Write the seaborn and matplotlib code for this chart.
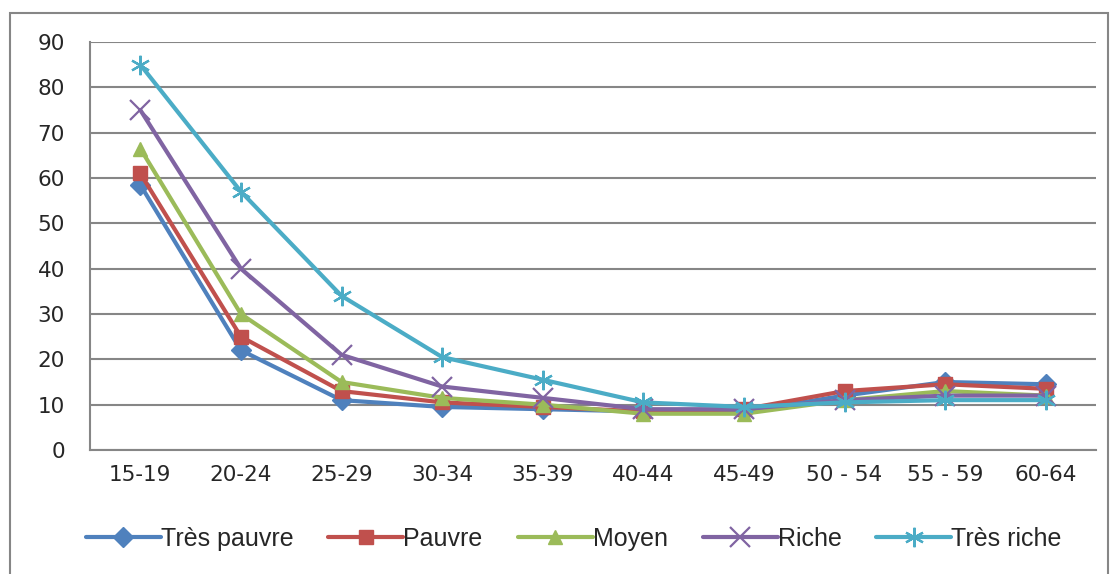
import numpy as np
import pandas as pd
import seaborn as sns
import matplotlib.pyplot as plt
from matplotlib.patches import Rectangle

age_groups = ["15-19", "20-24", "25-29", "30-34", "35-39",
              "40-44", "45-49", "50 - 54", "55 - 59", "60-64"]
tres_pauvre = [58.5, 22, 11, 9.5, 9, 8.5, 8.5, 12, 15, 14.5]
pauvre = [61, 25, 13, 10.5, 9.5, 8.5, 9, 13, 14.5, 13.5]
moyen = [66.5, 30, 15, 11.5, 10, 8, 8, 11, 13, 12]
riche = [75, 40, 21, 14, 11.5, 9, 9, 11, 12, 12]
tres_riche = [85, 57, 34, 20.5, 15.5, 10.5, 9.5, 10.5, 11, 11]

groups = ["Très pauvre", "Pauvre", "Moyen", "Riche", "Très riche"]
series = [tres_pauvre, pauvre, moyen, riche, tres_riche]
colors = ["#4F81BD", "#C0504D", "#9BBB59", "#8064A2", "#4BACC6"]
markers = ["D", "s", "^", "x", (6, 2, 0)]

df = pd.DataFrame({
    "age": age_groups * len(groups),
    "value": np.concatenate(series),
    "group": np.repeat(groups, len(age_groups)),
})

sns.set_style("white")
plt.rcParams["font.family"] = ["DejaVu Sans"]

fig = plt.figure(figsize=(11.14, 5.74), dpi=100)
ax = fig.add_axes([90 / 1114, 1 - 450 / 574, (1096 - 90) / 1114, 408 / 574])

# one call per group: seaborn won't mix filled and line markers in one call
for g, c, m in zip(groups, colors, markers):
    sub = df[df["group"] == g]
    filled = m in ("D", "s", "^")
    sns.lineplot(data=sub, x="age", y="value", color=c, marker=m,
                 markersize=10 if filled else 14,
                 markeredgecolor=c, markeredgewidth=1.0 if filled else 1.6,
                 linewidth=3, sort=False, label=g, ax=ax)

handles, labels = ax.get_legend_handles_labels()
ax.get_legend().remove()
fig.legend(handles, labels, loc="center", bbox_to_anchor=(0.515, 1 - 539 / 574),
           ncol=5, frameon=False, handlelength=3.0,
           handletextpad=0.0, columnspacing=1.4,
           prop={"family": ["Liberation Sans", "DejaVu Sans"], "size": 18})

ax.set_ylim(0, 90)
ax.set_yticks(range(0, 91, 10))
ax.set_xlim(-0.5, len(age_groups) - 0.5)
ax.set_xticks(range(len(age_groups)))
ax.set_xticklabels(age_groups)
ax.set_xticks(np.arange(-0.5, len(age_groups), 1), minor=True)
ax.grid(axis="y", color="#868686", linewidth=1.5)
ax.set_axisbelow(True)
ax.set_xlabel("")
ax.set_ylabel("")
for side in ["top", "right"]:
    ax.spines[side].set_visible(False)
for side in ["left", "bottom"]:
    ax.spines[side].set_color("#868686")
    ax.spines[side].set_linewidth(1.5)
ax.tick_params(axis="x", which="major", length=0, pad=11, labelsize=15.5)
ax.tick_params(axis="x", which="minor", length=8, width=1.5, color="#868686")
ax.tick_params(axis="y", length=8, width=1.5, color="#868686", pad=10, labelsize=15.5)

fig.patches.append(Rectangle((10 / 1114, -0.05), 1098 / 1114, 1.05 - 13 / 574,
                             transform=fig.transFigure, fill=False,
                             edgecolor="#868686", linewidth=1.5))

fig.savefig("out.png", dpi=100)
